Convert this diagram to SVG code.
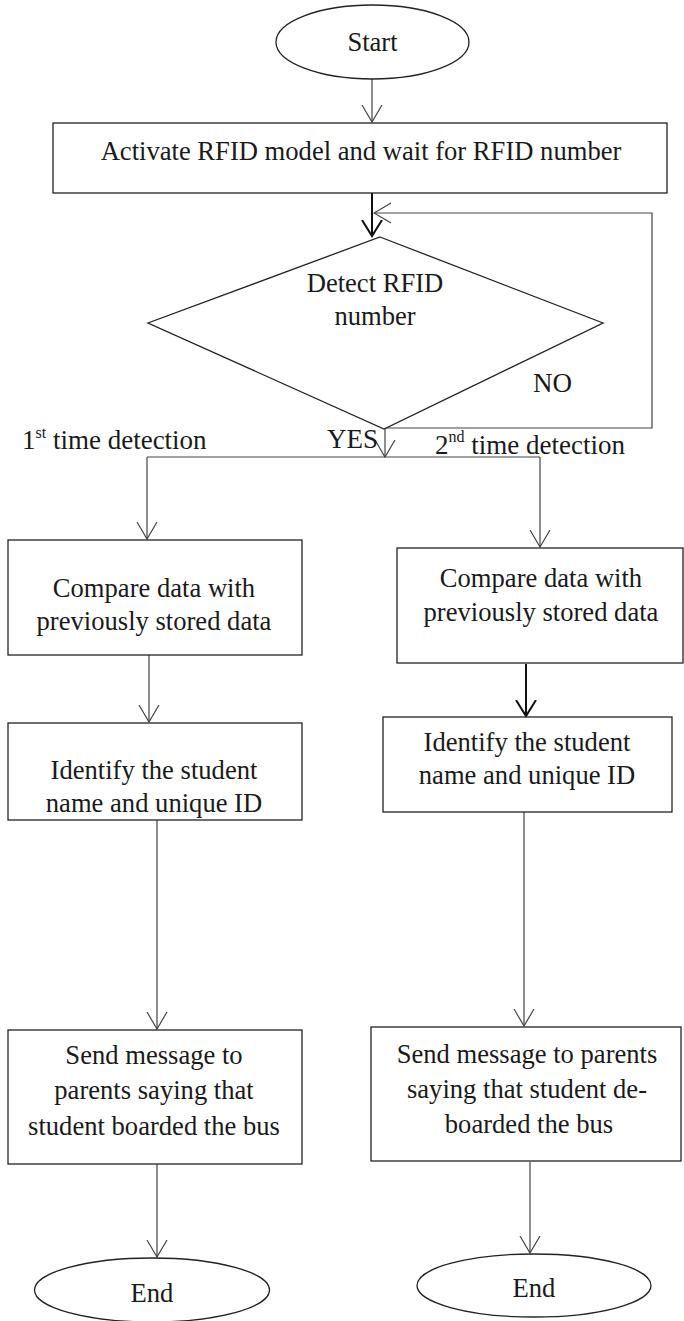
<svg xmlns="http://www.w3.org/2000/svg" width="684" height="1321" viewBox="0 0 684 1321">
  <defs>
    <marker id="arrow" markerUnits="userSpaceOnUse" viewBox="0 0 18 22" markerWidth="18" markerHeight="22" refX="17" refY="11" orient="auto">
      <path d="M0,1 L17,11 L0,21" fill="none" stroke="#444" stroke-width="1.2"/>
    </marker>
    <marker id="arrowBold" markerUnits="userSpaceOnUse" viewBox="0 0 18 22" markerWidth="18" markerHeight="22" refX="16" refY="11" orient="auto">
      <path d="M0,1 L16,11 L0,21" fill="none" stroke="#111" stroke-width="2"/>
    </marker>
    <style>
      .shape { fill: #fff; stroke: #222; stroke-width: 1.3; }
      .txt { font-family: "Liberation Serif", "Times New Roman", serif; font-size: 26.6px; fill: #1a1a1a; text-anchor: middle; }
      .lbl { font-family: "Liberation Serif", "Times New Roman", serif; font-size: 27px; fill: #1a1a1a; }
      .sup { font-size: 16px; }
      .line { fill: none; stroke: #444; stroke-width: 1.2; }
      .bold { fill: none; stroke: #111; stroke-width: 2; }
    </style>
  </defs>

  <!-- connectors -->
  <g id="connectors">
    <line class="line" x1="372" y1="79" x2="372" y2="122" marker-end="url(#arrow)"/>
    <line class="bold" x1="372" y1="193" x2="372" y2="236" marker-end="url(#arrowBold)"/>
    <!-- NO loop back to the detector -->
    <polyline class="line" points="385,428 652,428 652,213 374,213" marker-end="url(#arrow)"/>
    <!-- YES: down to the split -->
    <line class="line" x1="385" y1="426" x2="385" y2="457" marker-end="url(#arrow)"/>
    <line class="line" x1="147" y1="457" x2="540" y2="457"/>
    <!-- left column -->
    <line class="line" x1="147" y1="457" x2="147" y2="539" marker-end="url(#arrow)"/>
    <line class="line" x1="149" y1="655" x2="149" y2="722" marker-end="url(#arrow)"/>
    <line class="line" x1="157" y1="820" x2="157" y2="1029" marker-end="url(#arrow)"/>
    <line class="line" x1="157" y1="1164" x2="157" y2="1257" marker-end="url(#arrow)"/>
    <!-- right column -->
    <line class="line" x1="540" y1="457" x2="540" y2="547" marker-end="url(#arrow)"/>
    <line class="bold" x1="526" y1="664" x2="526" y2="716" marker-end="url(#arrowBold)"/>
    <line class="line" x1="524" y1="812" x2="524" y2="1026" marker-end="url(#arrow)"/>
    <line class="line" x1="530" y1="1162" x2="530" y2="1253" marker-end="url(#arrow)"/>
  </g>

  <!-- edge labels -->
  <g id="labels">
    <text class="lbl" x="22" y="449">1<tspan class="sup" dy="-11">st</tspan><tspan dy="11"> time detection</tspan></text>
    <text class="lbl" x="327" y="448">YES</text>
    <text class="lbl" x="533" y="392">NO</text>
    <text class="lbl" x="435" y="454">2<tspan class="sup" dy="-12">nd</tspan><tspan dy="12"> time detection</tspan></text>
  </g>

  <g id="start">
    <ellipse class="shape" cx="372.5" cy="42" rx="96.5" ry="37"/>
    <text class="txt" x="372.5" y="51">Start</text>
  </g>

  <g id="activate">
    <rect class="shape" x="53" y="123" width="614" height="70"/>
    <text class="txt" x="361" y="160">Activate RFID model and wait for RFID number</text>
  </g>

  <g id="detect">
    <polygon class="shape" points="380,237 603,323 384,429 148,323"/>
    <text class="txt" x="375" y="292">Detect RFID</text>
    <text class="txt" x="375" y="325">number</text>
  </g>

  <g id="compare-left">
    <rect class="shape" x="8" y="540" width="294" height="115"/>
    <text class="txt" x="154" y="597">Compare data with</text>
    <text class="txt" x="154" y="630">previously stored data</text>
  </g>

  <g id="compare-right">
    <rect class="shape" x="397" y="548" width="286" height="115"/>
    <text class="txt" x="541" y="587">Compare data with</text>
    <text class="txt" x="541" y="621">previously stored data</text>
  </g>

  <g id="identify-left">
    <rect class="shape" x="8" y="723" width="294" height="97"/>
    <text class="txt" x="154" y="779">Identify the student</text>
    <text class="txt" x="154" y="812">name and unique ID</text>
  </g>

  <g id="identify-right">
    <rect class="shape" x="383" y="717" width="289" height="95"/>
    <text class="txt" x="527" y="751">Identify the student</text>
    <text class="txt" x="527" y="784">name and unique ID</text>
  </g>

  <g id="message-left">
    <rect class="shape" x="8" y="1030" width="294" height="134"/>
    <text class="txt" x="154" y="1064">Send message to</text>
    <text class="txt" x="154" y="1099">parents saying that</text>
    <text class="txt" x="154" y="1135">student boarded the bus</text>
  </g>

  <g id="message-right">
    <rect class="shape" x="371" y="1027" width="310" height="134"/>
    <text class="txt" x="527" y="1063">Send message to parents</text>
    <text class="txt" x="527" y="1098">saying that student de-</text>
    <text class="txt" x="529" y="1133">boarded the bus</text>
  </g>

  <g id="end-left">
    <ellipse class="shape" cx="152" cy="1290" rx="117.5" ry="32"/>
    <text class="txt" x="152" y="1302">End</text>
  </g>

  <g id="end-right">
    <ellipse class="shape" cx="534" cy="1285.5" rx="117" ry="31.5"/>
    <text class="txt" x="534" y="1297">End</text>
  </g>
</svg>
